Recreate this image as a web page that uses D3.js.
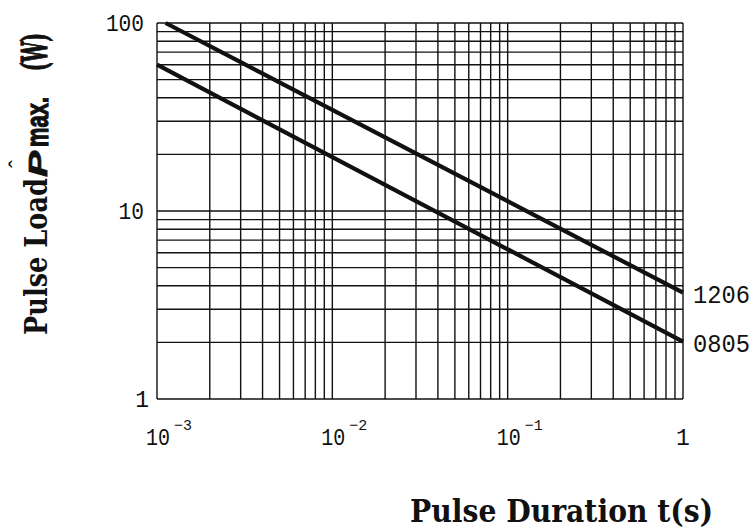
<!DOCTYPE html>
<html>
<head>
<meta charset="utf-8">
<script src="https://cdn.jsdelivr.net/npm/d3@7"></script>
<style>
  body { margin: 0; background: #fff; }
  svg { display: block; }
</style>
</head>
<body>
<svg id="chart"></svg>
<script>
// values (log-log, straight lines)
const seriesNames = ["1206", "0805"];
const duration1206 = [0.00112, 1];
const load1206 = [100, 3.68];
const duration0805 = [0.001, 1];
const load0805 = [60, 2.02];

const xDecades = [1e-3, 1e-2, 1e-1, 1];
const xExponents = ["-3", "-2", "-1", null];
const yDecades = [1, 10, 100];
const yTickLabels = ["1", "10", "100"];

const width = 754, height = 532;
const marginLeft = 157, marginRight = 71, marginTop = 23, marginBottom = 133;
const ink = "#111";
const thinFont = "'Liberation Mono', monospace";
const serifBold = "'DejaVu Serif', serif";
const sansBold = "'Liberation Sans', Arial, sans-serif";

const svg = d3.select("#chart")
    .attr("width", width)
    .attr("height", height)
    .attr("viewBox", [0, 0, width, height]);

const x = d3.scaleLog([1e-3, 1], [marginLeft, width - marginRight]);
const y = d3.scaleLog([1, 100], [height - marginBottom, marginTop]);

// grid, every 1..9 of each decade
const grid = svg.append("g").attr("stroke", ink).attr("stroke-width", 1.4);
grid.selectAll("line.vx")
    .data(x.ticks())
    .join("line")
    .attr("x1", d => x(d)).attr("x2", d => x(d))
    .attr("y1", y(1)).attr("y2", y(100));
grid.selectAll("line.hy")
    .data(y.ticks())
    .join("line")
    .attr("x1", x(1e-3)).attr("x2", x(1))
    .attr("y1", d => y(d)).attr("y2", d => y(d));

// curves
const curves = [
  {name: seriesNames[0], t: duration1206, p: load1206},
  {name: seriesNames[1], t: duration0805, p: load0805}
];
const line = d3.line().x(d => x(d[0])).y(d => y(d[1]));
svg.append("g")
    .attr("fill", "none")
    .attr("stroke", ink)
    .attr("stroke-width", 4.2)
    .selectAll("path")
    .data(curves)
    .join("path")
    .attr("d", c => line(d3.zip(c.t, c.p)));

// curve labels
svg.append("g")
    .attr("font-family", thinFont)
    .attr("font-size", 25)
    .attr("fill", ink)
    .selectAll("text")
    .data(curves)
    .join("text")
    .attr("x", x(1) + 10)
    .attr("y", c => y(c.p[c.p.length - 1]) + 10)
    .attr("textLength", 57)
    .attr("lengthAdjust", "spacingAndGlyphs")
    .text(c => c.name);

// y tick labels
svg.append("g")
    .attr("font-family", thinFont)
    .attr("font-size", 23)
    .attr("fill", ink)
    .attr("text-anchor", "end")
    .selectAll("text")
    .data(yDecades)
    .join("text")
    .attr("x", (d, i) => i === 0 ? 149 : 144)
    .attr("y", d => y(d) + 8)
    .attr("textLength", (d, i) => i === 0 ? null : yTickLabels[i].length * 12.7)
    .attr("lengthAdjust", "spacingAndGlyphs")
    .text((d, i) => yTickLabels[i]);

// x tick labels: 10^n
const xt = svg.append("g")
    .attr("font-family", thinFont)
    .attr("fill", ink)
    .selectAll("g")
    .data(xDecades)
    .join("g")
    .attr("transform", d => `translate(${x(d)},445)`);
xt.append("text")
    .attr("font-size", 23)
    .attr("text-anchor", (d, i) => xExponents[i] ? "end" : "middle")
    .attr("x", (d, i) => xExponents[i] ? 13 : 0)
    .attr("textLength", (d, i) => xExponents[i] ? 24 : null)
    .attr("lengthAdjust", "spacingAndGlyphs")
    .text((d, i) => xExponents[i] ? "10" : "1");
xt.filter((d, i) => xExponents[i])
    .append("text")
    .attr("font-size", 15)
    .attr("x", 17)
    .attr("y", -15)
    .attr("textLength", 18)
    .attr("lengthAdjust", "spacingAndGlyphs")
    .text((d, i) => "\u2212" + xExponents[i].slice(1));

// x axis title
svg.append("text")
    .attr("x", 410)
    .attr("y", 522)
    .attr("font-family", serifBold)
    .attr("font-weight", "bold")
    .attr("font-size", 31)
    .attr("fill", ink)
    .attr("textLength", 303)
    .attr("lengthAdjust", "spacingAndGlyphs")
    .text("Pulse Duration t(s)");

// y axis title, pieced together bottom-up; each piece squeezed to its length
function rotatedPiece(str, bx, by, len, font, size, italic, extra) {
  const g = svg.append("g").attr("transform", `translate(${bx},${by}) rotate(-90)`);
  const t = g.append("text")
      .attr("font-family", font)
      .attr("font-weight", "bold")
      .attr("font-style", italic ? "italic" : "normal")
      .attr("font-size", size)
      .attr("fill", ink)
      .attr("stroke", extra ? ink : null)
      .attr("stroke-width", extra || null)
      .text(str);
  const w = t.node().getComputedTextLength();
  t.attr("transform", `scale(${len / w},1)`);
  return g;
}
rotatedPiece("Pulse Load", 47, 335, 157, serifBold, 32, false);
rotatedPiece("P", 47, 177, 26, sansBold, 25, true, 0.8);
rotatedPiece("max.", 48, 147, 50, sansBold, 31, false, 1.2);
rotatedPiece("(W)", 47, 71, 38, serifBold, 36, false, 1.2);
// circumflex over the P
svg.append("text")
    .attr("transform", "translate(26,168) rotate(-90)")
    .attr("font-family", sansBold)
    .attr("font-size", 24)
    .attr("fill", ink)
    .text("\u02C6");
</script>
</body>
</html>
